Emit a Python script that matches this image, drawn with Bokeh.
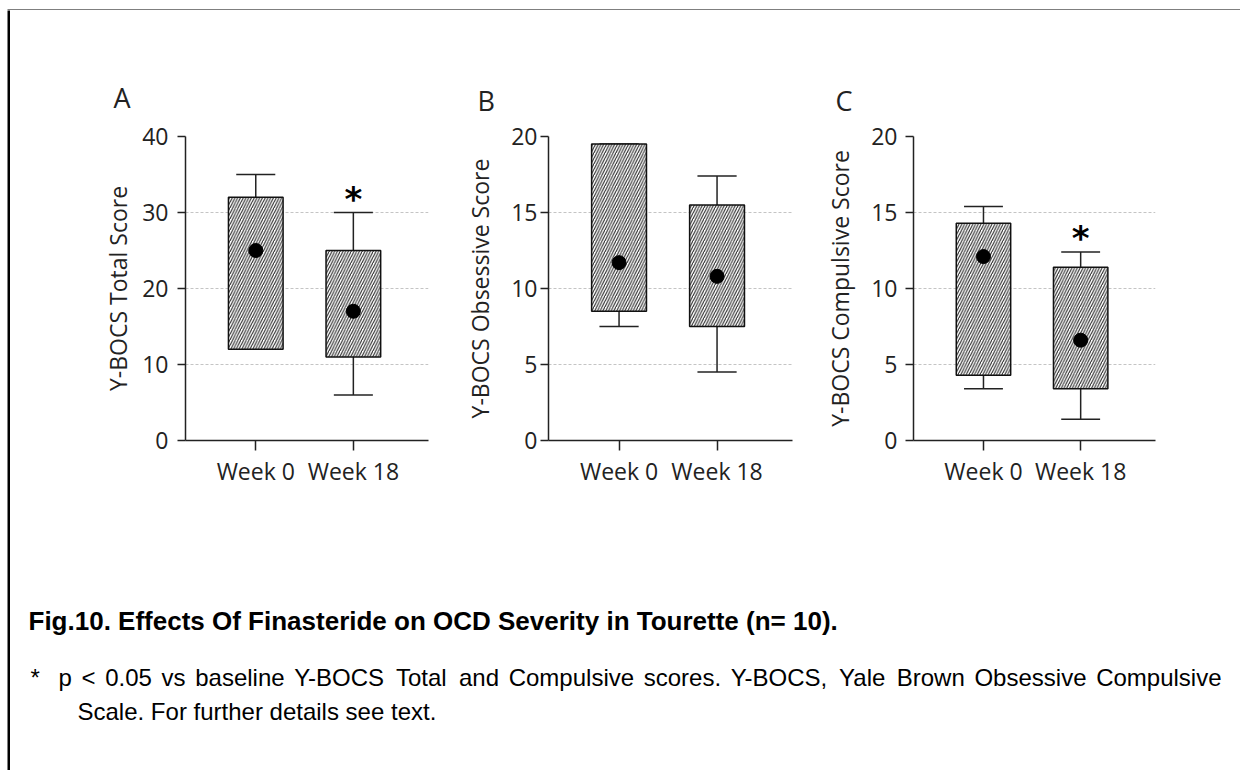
from bokeh.plotting import figure
from bokeh.layouts import column, row
from bokeh.models import Range1d, FixedTicker
from bokeh.core.properties import value
from bokeh.embed import file_html
from bokeh.resources import INLINE

# ---------------- data ----------------
categories = ["Week 0", "Week 18"]
panel_letters = ["A", "B", "C"]
y_titles = ["Y-BOCS Total Score", "Y-BOCS Obsessive Score", "Y-BOCS Compulsive Score"]
y_max = [40, 20, 20]
y_ticks_a = [0, 10, 20, 30, 40]
y_ticks_bc = [0, 5, 10, 15, 20]

# Panel A: Y-BOCS Total
a_low = [12, 6]
a_q1 = [12, 11]
a_q3 = [32, 25]
a_high = [35, 30]
a_mean = [25, 17]
a_sig = [False, True]

# Panel B: Y-BOCS Obsessive
b_low = [7.5, 4.5]
b_q1 = [8.5, 7.5]
b_q3 = [19.5, 15.5]
b_high = [19.5, 17.4]
b_mean = [11.7, 10.8]
b_sig = [False, False]

# Panel C: Y-BOCS Compulsive
c_low = [3.4, 1.4]
c_q1 = [4.3, 3.4]
c_q3 = [14.3, 11.4]
c_high = [15.4, 12.4]
c_mean = [12.1, 6.6]
c_sig = [False, True]

caption = "Fig.10.  Effects Of Finasteride on OCD Severity in Tourette (n= 10)."
note_star = "*"
note_line1 = "p < 0.05 vs baseline Y-BOCS Total and Compulsive scores. Y-BOCS, Yale Brown Obsessive Compulsive"
note_line2 = "Scale. For further details see text."

FONT = "Open Sans"
INK = "#222222"
X_START, X_END = -0.72, 1.77
FRAME_H = 304


def make_panel(idx, low, q1, q3, high, mean, sig, yticks,
               border_left, frame_width, border_right,
               tick_standoff, label_standoff, letter_offset, letter_standoff):
    p = figure(frame_width=frame_width, frame_height=FRAME_H,
               x_range=Range1d(X_START, X_END), y_range=Range1d(0, y_max[idx]),
               output_backend="svg", toolbar_location=None,
               min_border_left=border_left, min_border_right=border_right,
               min_border_top=126, min_border_bottom=100,
               title=panel_letters[idx])
    p.title.align = "left"
    p.title.offset = letter_offset
    p.title.standoff = letter_standoff
    p.title.text_font = FONT
    p.title.text_font_size = "27px"
    p.title.text_font_style = "normal"
    p.title.text_color = INK

    p.outline_line_color = None
    p.background_fill_color = "white"
    p.border_fill_color = "white"
    p.xgrid.visible = False
    p.ygrid.grid_line_color = "#c4c4c4"
    p.ygrid.grid_line_dash = "3 2"
    p.ygrid.grid_line_width = 1
    p.ygrid.ticker = FixedTicker(ticks=yticks[1:])

    xs = list(range(len(categories)))
    p.xaxis.ticker = FixedTicker(ticks=xs)
    p.xaxis.major_label_overrides = {i: c for i, c in enumerate(categories)}
    p.yaxis.ticker = FixedTicker(ticks=yticks)
    p.axis.minor_tick_line_color = None
    p.axis.major_tick_in = 0
    p.yaxis.major_tick_out = 8
    p.xaxis.major_tick_out = 10
    p.axis.axis_line_color = INK
    p.axis.axis_line_width = 1.5
    p.axis.major_tick_line_color = INK
    p.axis.major_tick_line_width = 1.5
    p.axis.major_label_text_font = FONT
    p.axis.major_label_text_font_size = "23px"
    p.axis.major_label_text_color = INK
    p.xaxis.major_label_standoff = 4
    p.yaxis.major_label_standoff = tick_standoff
    p.yaxis.axis_label = y_titles[idx]
    p.yaxis.axis_label_text_font = FONT
    p.yaxis.axis_label_text_font_size = "23px"
    p.yaxis.axis_label_text_font_style = "normal"
    p.yaxis.axis_label_text_color = INK
    p.yaxis.axis_label_standoff = label_standoff

    # whiskers
    p.segment(x0=xs, y0=q3, x1=xs, y1=high, line_color=INK, line_width=1.5)
    p.segment(x0=xs, y0=q1, x1=xs, y1=low, line_color=INK, line_width=1.5)
    p.segment(x0=[x - 0.2 for x in xs], y0=high, x1=[x + 0.2 for x in xs], y1=high,
              line_color=INK, line_width=1.5)
    p.segment(x0=[x - 0.2 for x in xs], y0=low, x1=[x + 0.2 for x in xs], y1=low,
              line_color=INK, line_width=1.5)
    # boxes
    p.vbar(x=xs, width=0.56, bottom=q1, top=q3, fill_color="white",
           line_color="#111111", line_width=1.5,
           hatch_pattern="/", hatch_color="#2a2a2a", hatch_scale=5.5, hatch_weight=1.1)
    # means
    p.scatter(x=xs, y=mean, size=14, color="black")
    # significance marks
    sx = [x for x, s in zip(xs, sig) if s]
    sy = [h for h, s in zip(high, sig) if s]
    if sx:
        p.text(x=sx, y=sy, text=["*"] * len(sx), text_align="center",
               text_baseline="middle", y_offset=-14,
               text_font=value("DejaVu Sans"), text_font_style="bold",
               text_font_size="34px", text_color="black")
    return p


pa = make_panel(0, a_low, a_q1, a_q3, a_high, a_mean, a_sig, y_ticks_a,
                175, 243, 12, 9, 5, -72, 42)
pb = make_panel(1, b_low, b_q1, b_q3, b_high, b_mean, b_sig, y_ticks_bc,
                108, 244, 13, 3, 12, -71, 36)
pc = make_panel(2, c_low, c_q1, c_q3, c_high, c_mean, c_sig, y_ticks_bc,
                108, 242, 85, 8, 12, -78, 36)

# ---------------- caption ----------------
ARIAL = {' ': 278, 'a': 556, 'b': 556, 'c': 500, 'd': 556, 'e': 556, 'f': 278, 'g': 556,
         'h': 556, 'i': 222, 'j': 222, 'k': 500, 'l': 222, 'm': 833, 'n': 556, 'o': 556,
         'p': 556, 'q': 556, 'r': 333, 's': 500, 't': 278, 'u': 556, 'v': 500, 'w': 722,
         'x': 500, 'y': 500, 'z': 500, 'A': 667, 'B': 667, 'C': 722, 'D': 722, 'E': 667,
         'F': 611, 'G': 778, 'H': 722, 'I': 278, 'J': 500, 'K': 667, 'L': 556, 'M': 833,
         'N': 722, 'O': 778, 'P': 667, 'Q': 778, 'R': 722, 'S': 667, 'T': 611, 'U': 722,
         'V': 667, 'W': 944, 'X': 667, 'Y': 667, 'Z': 611, '.': 278, ',': 278, '-': 333,
         '<': 584, '*': 389, '(': 333, ')': 333, '=': 584}
for d in "0123456789":
    ARIAL[d] = 556


def text_width(s, size):
    return sum(ARIAL.get(ch, 556) for ch in s) * size / 1000.0


cap = figure(width=1230, height=230, x_range=Range1d(10, 1240), y_range=Range1d(770, 540),
             output_backend="svg", toolbar_location=None, min_border=0,
             x_axis_location=None, y_axis_location=None)
cap.outline_line_color = None
cap.xgrid.visible = False
cap.ygrid.visible = False

cap.text(x=[28], y=[620], text=[caption], text_font=value("Liberation Sans"),
         text_font_style="bold", text_font_size="26px", text_baseline="alphabetic",
         text_color="black")

NOTE_FS = 24
cap.text(x=[30], y=[677], text=[note_star], text_font=value("Liberation Sans"),
         text_font_size=f"{NOTE_FS}px", text_baseline="alphabetic", text_color="black")
words = note_line1.split(" ")
left, right = 58, 1221
total = sum(text_width(w, NOTE_FS) for w in words)
gap = (right - left - total) / (len(words) - 1)
wx = []
cur = left
for w in words:
    wx.append(cur)
    cur += text_width(w, NOTE_FS) + gap
cap.text(x=wx, y=[677] * len(words), text=words, text_font=value("Liberation Sans"),
         text_font_size=f"{NOTE_FS}px", text_baseline="alphabetic", text_color="black")
cap.text(x=[77], y=[711], text=[note_line2], text_font=value("Liberation Sans"),
         text_font_size=f"{NOTE_FS}px", text_baseline="alphabetic", text_color="black")


# ---------------- frame border (top and left rules) ----------------
def bar(frame_w, frame_h, left, top):
    b = figure(frame_width=frame_w, frame_height=frame_h, output_backend="svg",
               toolbar_location=None, min_border_left=left, min_border_top=top,
               min_border_right=0, min_border_bottom=0,
               x_axis_location=None, y_axis_location=None)
    b.outline_line_color = None
    b.xgrid.visible = False
    b.ygrid.visible = False
    b.background_fill_color = "black"
    b.border_fill_color = "white"
    return b


top_bar = bar(1233, 3, 7, 7)
left_bar = bar(3, 760, 7, 0)

layout = column(top_bar, row(left_bar, column(row(pa, pb, pc), cap)))

open("out.html", "w").write(file_html(layout, INLINE))
